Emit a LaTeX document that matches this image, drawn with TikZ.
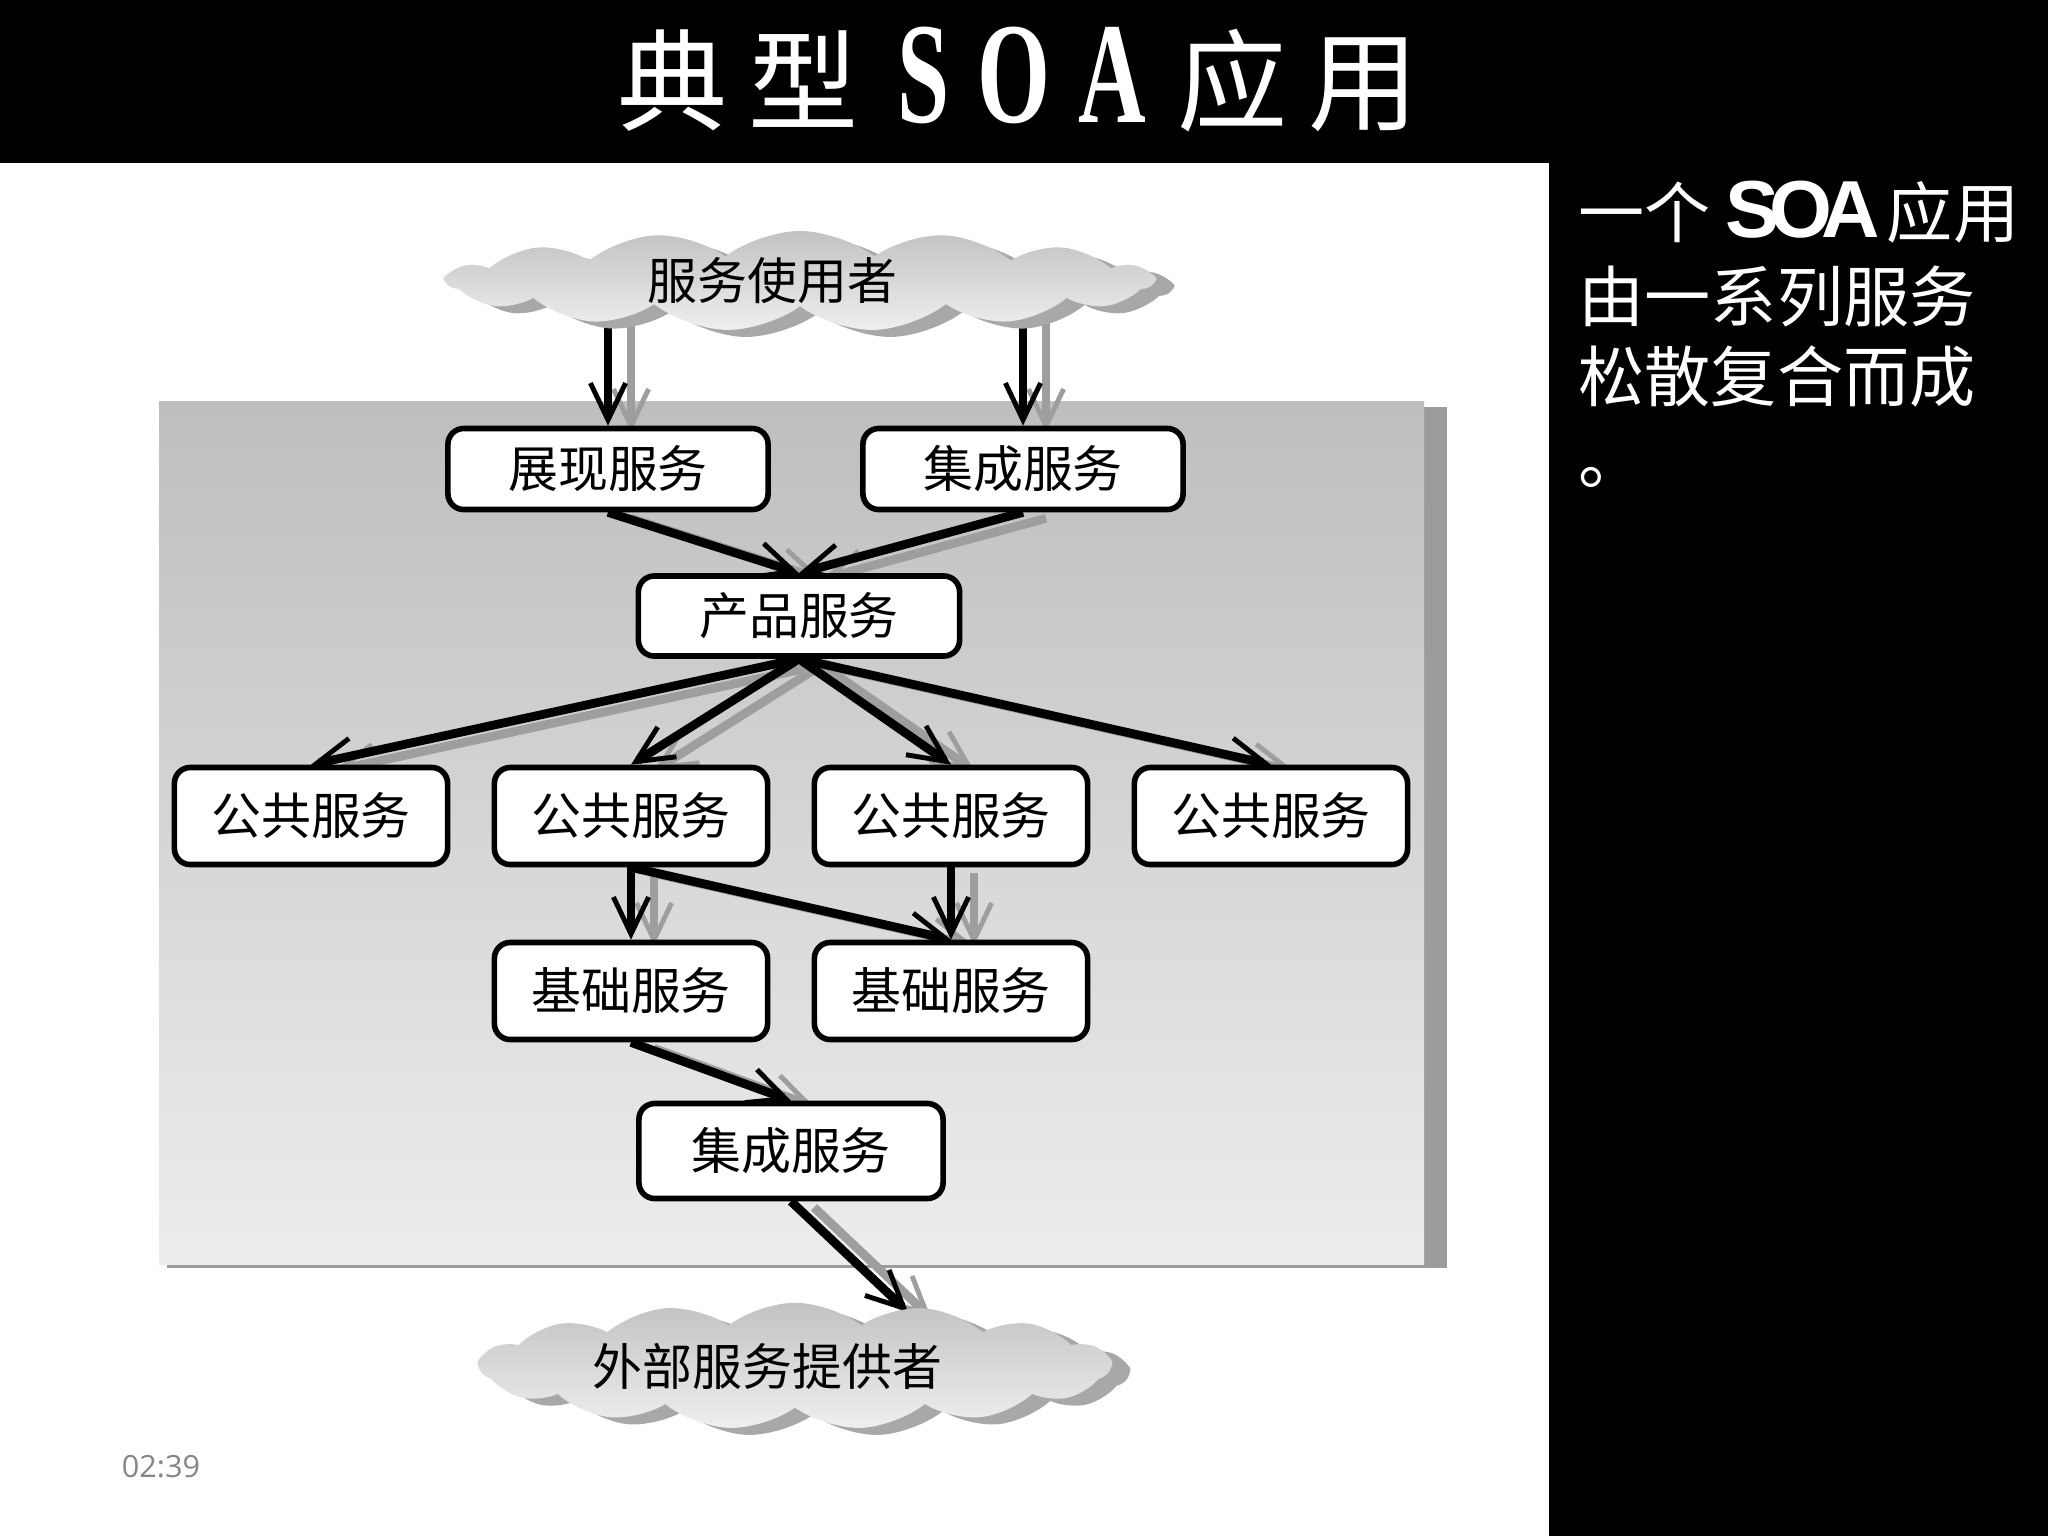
\documentclass[tikz,border=0pt]{standalone}
\usepackage{fontspec}
\usepackage{graphicx}
\setmainfont{Noto Sans CJK SC}
\newfontfamily\titleserif{Liberation Serif}
\newfontfamily\latinsans{Liberation Sans}
\newfontfamily\stampfont{Open Sans}
\usetikzlibrary{arrows.meta,shapes.symbols,shadows,calc}
\definecolor{ink}       {HTML}{000000}
\definecolor{panelTop}  {HTML}{BEBEBE}
\definecolor{panelBot}  {HTML}{EDEDED}
\definecolor{panelShade}{HTML}{9C9C9C}
\definecolor{cloudTop}  {HTML}{C2C2C2}
\definecolor{cloudBot}  {HTML}{EFEFEF}
\definecolor{cloudShade}{HTML}{A8A8A8}
\definecolor{ghost}     {HTML}{9E9E9E}
\definecolor{stampgray} {HTML}{868686}
\newcommand{\narrowtx}[1]{\scalebox{0.65}[1]{#1}}
\pgfdeclarelayer{frame}
\pgfdeclarelayer{panel}
\pgfdeclarelayer{ghostlayer}
\pgfdeclarelayer{flowlayer}
\pgfsetlayers{frame,panel,ghostlayer,flowlayer,main}
\tikzset{
  % --- nodes
  svc/.style    = {draw=ink, fill=white, rounded corners=4.5pt, line width=1.6pt,
                   inner sep=0pt, minimum width=3.2cm, minimum height=0.81cm,
                   font=\fontsize{14.2pt}{16pt}\selectfont},
  pub/.style    = {svc, minimum width=2.73cm, minimum height=0.97cm},
  cloudy/.style = {cloud, cloud puffs=15, cloud puff arc=75, aspect=6.5,
                   inner sep=0pt, top color=cloudTop, bottom color=cloudBot,
                   drop shadow={shadow xshift=0.18cm, shadow yshift=-0.07cm,
                                fill=cloudShade, opacity=1},
                   font=\fontsize{14.2pt}{16pt}\selectfont},
  side/.style   = {anchor=base west, inner sep=0pt, text=white,
                   font=\fontsize{18.8pt}{23pt}\selectfont},
  stamp/.style  = {font=\stampfont\fontsize{8.7pt}{10pt}\selectfont, text=stampgray},
  % --- edges
  flow/.style   = {-{Straight Barb[length=10.5pt, width=10pt, line width=1.4pt]},
                   line width=2.5pt, draw=ink},
  ghostflow/.style = {flow, draw=ghost, transform canvas={xshift=0.23cm, yshift=-0.06cm}},
}
\begin{document}
\begin{tikzpicture}[x=0.01cm, y=-0.01cm]
  \useasboundingbox (0,0) rectangle (2048,1536);
  % slide frame
  \begin{pgfonlayer}{frame}
    \fill[ink] (0,0) rectangle (2048,1536);
    \fill[white] (0,163) rectangle (1549,1536);
  \end{pgfonlayer}
  \node[anchor=base, text=white, inner sep=0pt, font=\fontsize{31.3pt}{34pt}\selectfont]
    (title) at (1018,122)
    {典\kern6pt 型\kern11pt{\titleserif\bfseries\fontsize{41pt}{44pt}\selectfont
      \narrowtx{S}\kern8pt\narrowtx{O}\kern8pt\narrowtx{A}}\kern9pt 应\kern6pt 用};

  % grey panel
  \begin{pgfonlayer}{panel}
    \fill[panelShade] (167,407) rectangle (1447,1268);
    \shade[top color=panelTop, bottom color=panelBot] (159,401) rectangle (1424,1264);
  \end{pgfonlayer}

  % services
  \node[cloudy, minimum width=7.05cm, minimum height=1.0cm] (user) at (800,281)
    {服务使用者\kern0.55cm\null};
  \node[svc] (pres)  at (608,469)  {展现服务};
  \node[svc] (integ) at (1023,469) {集成服务};
  \node[svc, minimum width=3.21cm, minimum height=0.8cm] (prod) at (799,616) {产品服务};
  \foreach \i/\xx in {1/311,2/631,3/951,4/1271}
    \node[pub] (pub\i) at (\xx,816) {公共服务};
  \node[pub] (base1) at (631,991) {基础服务};
  \node[pub] (base2) at (951,991) {基础服务};
  \node[pub, minimum width=3.04cm, minimum height=0.95cm] (integb) at (791,1151) {集成服务};
  \node[cloudy, minimum width=6.3cm, minimum height=1.05cm] (ext) at (795,1366)
    {外部服务提供者\kern0.55cm\null};
  \coordinate (extin) at ($(ext.center)+(113,-54)$);

  % connectors, shadow copy first
  \begin{pgfonlayer}{ghostlayer}
    \draw[ghostflow] (pres.north |- user.center) -- (pres.north);
    \draw[ghostflow] (integ.north |- user.center) -- (integ.north);
    \foreach \a/\b in {pres/prod,integ/prod,prod/pub1,prod/pub2,prod/pub3,prod/pub4,
                       pub2/base1,pub2/base2,pub3/base2,base1/integb}
      \draw[ghostflow] (\a.south) -- (\b.north);
    \draw[ghostflow] (integb.south) -- (extin);
  \end{pgfonlayer}
  \begin{pgfonlayer}{flowlayer}
    \draw[flow] (pres.north |- user.center) -- (pres.north);
    \draw[flow] (integ.north |- user.center) -- (integ.north);
    \foreach \a/\b in {pres/prod,integ/prod,prod/pub1,prod/pub2,prod/pub3,prod/pub4,
                       pub2/base1,pub2/base2,pub3/base2,base1/integb}
      \draw[flow] (\a.south) -- (\b.north);
    \draw[flow] (integb.south) -- (extin);
  \end{pgfonlayer}

  % side text
  \node[side] (desc1) at (1578,237)
    {一个 {\latinsans\bfseries\fontsize{23pt}{26pt}\selectfont S\kern-3pt O\kern-3pt A}\kern2pt 应用};
  \node[side] (desc2) at (1578,321) {由一系列服务};
  \node[side] (desc3) at (1578,401) {松散复合而成};
  \node[side] (desc4) at (1578,483) {。};

  \node[stamp] (clock) at (161,1467) {02:39};
\end{tikzpicture}
\end{document}
